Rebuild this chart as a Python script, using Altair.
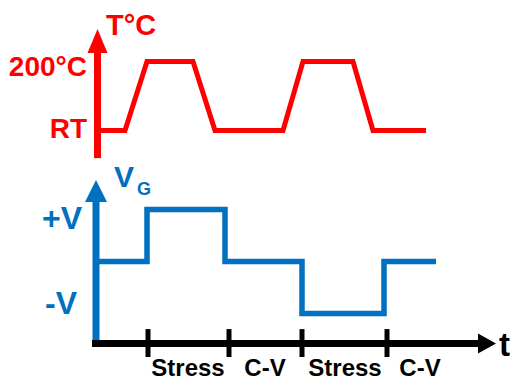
import altair as alt
import pandas as pd

# ---- data (time in arbitrary units) ----
temp_t = [0, 29, 51, 97, 119, 187, 207, 257, 277, 330]
temp_v = [25, 25, 200, 200, 25, 25, 200, 200, 25, 25]          # °C (RT = 25)
vg_t = [0, 51, 51, 129, 129, 206, 206, 288, 288, 340]
vg_v = [0, 0, 1, 1, 0, 0, -1, -1, 0, 0]                        # units of V
phase_ticks = [52, 133, 206, 291]
phase_labels = ["Stress", "C-V", "Stress", "C-V"]
phase_centers = [92, 169, 249, 324]

RED = "#FF0000"
BLUE = "#0070C0"
BLACK = "#000000"
FONT = "Liberation Sans"

W, H = 503, 373
xs = alt.Scale(domain=[-88, -88 + W], nice=False, zero=False)
kT, yRT = 69 / 175, 122.5
ts = alt.Scale(domain=[25 - (H - yRT) / kT, 25 + yRT / kT], nice=False, zero=False)
kV, y0 = 52.0, 253.5
vs = alt.Scale(domain=[-(H - y0) / kV, y0 / kV], nice=False, zero=False)


def X():
    return alt.X("t:Q", scale=xs, axis=None)


def Y(scale):
    return alt.Y("v:Q", scale=scale, axis=None)


def line(ts_, vs_, scale, color, width):
    df = pd.DataFrame({"t": ts_, "v": vs_, "o": range(len(ts_))})
    return alt.Chart(df).mark_line(
        color=color, strokeWidth=width, strokeJoin="miter", strokeCap="butt"
    ).encode(x=X(), y=Y(scale), order="o:Q")


def vrule(t, v1, v2, scale, color, width):
    df = pd.DataFrame({"t": t if isinstance(t, list) else [t],
                       "v": v1 if isinstance(v1, list) else [v1],
                       "v2": v2 if isinstance(v2, list) else [v2]})
    return alt.Chart(df).mark_rule(color=color, strokeWidth=width, strokeCap="butt").encode(
        x=X(), y=Y(scale), y2="v2:Q")


def arrow(t, v, scale, color, shape, size):
    df = pd.DataFrame({"t": [t], "v": [v]})
    return alt.Chart(df).mark_point(
        shape=shape, size=size, filled=True, color=color, opacity=1, strokeWidth=0
    ).encode(x=X(), y=Y(scale))


def text(labels, t, v, scale, color, size, align):
    df = pd.DataFrame({"t": t, "v": v, "label": labels})
    return alt.Chart(df).mark_text(
        align=align, baseline="alphabetic", font=FONT, fontWeight="bold",
        fontSize=size, color=color
    ).encode(x=X(), y=Y(scale), text="label:N")


# temperature panel
temp_axis = vrule(1.5, -45, 230, ts, RED, 7)
temp_head = arrow(1.5, 252, ts, RED, "M0,-1.2L-1,1.2L1,1.2Z", 400)
temp_line = line(temp_t, temp_v, ts, RED, 5)
temp_title = text(["T°C"], [10], [266], ts, RED, 29, "left")
temp_lab1 = text(["200°C"], [-9], [163], ts, RED, 28, "right")
temp_lab2 = text(["RT"], [-9], [6], ts, RED, 28, "right")

# voltage panel
vg_axis = vrule(0, -1.55, 1.2, vs, BLUE, 7)
vg_head = arrow(0, 1.356, vs, BLUE, "M0,-1L-1,1L1,1Z", 484)
vg_line = line(vg_t, vg_v, vs, BLUE, 5.5)
vg_title = text(["V"], [18], [1.433], vs, BLUE, 30, "left")
vg_sub = text(["G"], [41], [1.279], vs, BLUE, 18, "left")
vg_lab1 = text(["+V"], [-14], [0.625], vs, BLUE, 32, "right")
vg_lab2 = text(["-V"], [-19], [-1.01], vs, BLUE, 32, "right")

# time axis
t_df = pd.DataFrame({"t": [-4], "t2": [382], "v": [-1.577]})
t_axis = alt.Chart(t_df).mark_rule(color=BLACK, strokeWidth=7, strokeCap="butt").encode(
    x=X(), x2="t2:Q", y=Y(vs))
t_head = arrow(391, -1.577, vs, BLACK, "M0.9,0L-0.9,-1L-0.9,1Z", 400)
t_ticks = vrule(phase_ticks, [-1.30] * 4, [-1.837] * 4, vs, BLACK, 5)
t_labels = text(phase_labels, phase_centers, [-2.2] * 4, vs, BLACK, 24, "center")
t_title = text(["t"], [403], [-1.817], vs, BLACK, 33, "left")

chart = alt.layer(
    temp_axis, temp_head, temp_line, temp_title, temp_lab1, temp_lab2,
    vg_axis, vg_head, vg_line, vg_title, vg_sub, vg_lab1, vg_lab2,
    t_axis, t_head, t_ticks, t_labels, t_title,
).resolve_scale(y="independent").properties(
    width=W, height=H, autosize=alt.AutoSizeParams(type="none"), padding=0
).configure_view(stroke=None)

chart.save("out.html", embed_options={"renderer": "svg", "actions": False})
